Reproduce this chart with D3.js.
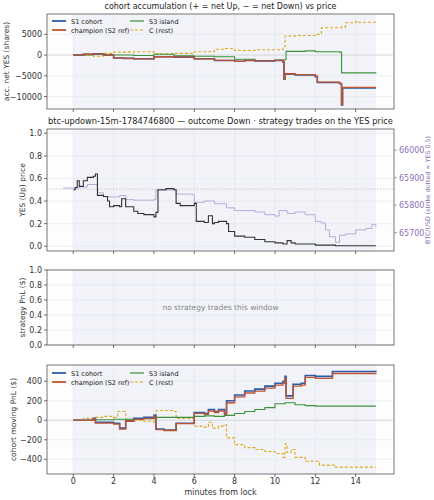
<!DOCTYPE html>
<html><head><meta charset="utf-8">
<script src="https://cdn.jsdelivr.net/npm/d3@7"></script>
<style>body{margin:0;background:#fff}svg{font-family:"DejaVu Sans",sans-serif}</style>
</head><body>
<script>
// ---- data (t = minutes from lock) ----
const accS1 = [[0,0],[0.5,200],[1,300],[1.5,0],[2,-700],[2.5,-800],[3,-900],[4,-400],[5,-500],[6,-900],[7,-1300],[8,-1500],[8.5,-1300],[9,-1400],[10,-1300],[10.4,-1700],[10.45,-5800],[10.5,-4600],[11,-4800],[12,-5200],[12.1,-6600],[13.2,-6900],[13.3,-12000],[13.35,-7900],[15,-7900]];
const accChamp = [[0,0],[0.5,200],[1,300],[1.5,0],[2,-700],[2.5,-800],[3,-900],[4,-400],[5,-500],[6,-900],[7,-1300],[8,-1500],[8.5,-1300],[9,-1400],[10,-1300],[10.4,-1700],[10.45,-5800],[10.5,-4500],[11,-4700],[12,-5100],[12.1,-6500],[13.2,-6800],[13.3,-12000],[13.35,-7800],[15,-7800]];
const accS3 = [[0,0],[1,200],[1.5,0],[3,-100],[4,200],[5,-200],[6,-300],[7,-400],[8,-1000],[9,-1300],[10,-1200],[10.5,-1000],[10.55,900],[11.5,1000],[12,800],[13.2,700],[13.3,-4300],[15,-4400]];
const accC = [[0,0],[1,-300],[1.5,400],[2,700],[3,800],[4,700],[4.1,300],[5,400],[6,800],[7,1400],[7.5,1600],[8,1100],[9,1300],[10,1300],[10.4,2000],[10.5,4600],[11,4700],[12,5000],[12.3,6600],[13.3,6800],[13.5,7800],[14,8100],[14.1,7900],[15,7900]];

const yesPrice = [[0,0.5],[0.1,0.52],[0.2,0.58],[0.3,0.53],[0.5,0.58],[0.7,0.61],[1,0.62],[1.1,0.64],[1.2,0.45],[1.5,0.44],[1.7,0.40],[1.8,0.35],[2,0.36],[2.3,0.35],[2.4,0.42],[2.6,0.35],[3,0.31],[3.2,0.29],[3.5,0.28],[4,0.26],[4.1,0.3],[4.2,0.5],[4.6,0.51],[5,0.5],[5.1,0.38],[5.3,0.36],[5.8,0.36],[6,0.38],[6.1,0.22],[6.5,0.21],[6.7,0.27],[6.9,0.2],[7,0.21],[7.2,0.22],[7.6,0.2],[7.7,0.13],[8,0.09],[8.5,0.08],[9,0.06],[9.5,0.04],[10,0.03],[10.4,0.02],[10.6,0.05],[10.8,0.03],[11,0.02],[12,0.01],[13,0.005],[15,0.005]];
const btcPrice = [[-0.5,65862],[0.3,65866],[0.7,65875],[1.2,65845],[1.5,65830],[2.3,65835],[2.6,65820],[3,65818],[4,65820],[4.1,65855],[5.1,65840],[5.9,65838],[6,65810],[6.5,65815],[7,65805],[7.6,65790],[8,65780],[9,65775],[9.5,65765],[10,65760],[10.2,65780],[10.6,65770],[11,65775],[11.5,65765],[12,65740],[12.3,65735],[12.5,65710],[12.7,65685],[13,65665],[13.2,65690],[13.5,65695],[14,65710],[14.5,65715],[14.8,65730],[15,65720]];
const strike = 65858;

const pnlS1 = [[0,0],[1,20],[1.1,-20],[2,-30],[2.3,-80],[2.6,-5],[3,20],[3.5,30],[4,50],[4.1,-90],[4.5,-100],[5.1,-30],[6,80],[6.5,70],[6.7,110],[7,90],[7.2,110],[7.5,70],[7.6,200],[8,260],[8.5,300],[9,320],[9.5,350],[10,380],[10.4,400],[10.5,450],[10.55,250],[10.9,370],[11.3,380],[11.5,460],[12,450],[12.8,450],[12.85,500],[15,510]];
const pnlChamp = [[0,0],[1,15],[1.1,-30],[2,-40],[2.3,-90],[2.6,-10],[3,10],[3.5,20],[4,40],[4.1,-95],[4.5,-105],[5.1,-35],[6,70],[6.5,60],[6.7,95],[7,80],[7.2,95],[7.5,60],[7.6,180],[8,240],[8.5,280],[9,300],[9.5,330],[10,360],[10.4,380],[10.5,430],[10.55,225],[10.9,350],[11.3,360],[11.5,440],[12,430],[12.8,430],[12.85,480],[15,485]];
const pnlS3 = [[0,0],[1,5],[2,10],[3,15],[4,20],[4.1,30],[5,30],[6,40],[6.5,45],[7,40],[7.5,50],[8,70],[8.5,90],[9,110],[9.5,130],[10,170],[10.5,180],[11,160],[11.5,150],[12,145],[15,145]];
const pnlC = [[0,0],[0.5,20],[1,30],[1.5,40],[2,30],[2.2,90],[2.5,90],[2.6,10],[3,0],[3.5,-10],[4,-20],[4.1,100],[5,90],[5.1,20],[5.9,20],[6,-60],[6.5,-70],[6.7,-20],[6.9,-80],[7.2,-60],[7.5,-50],[7.6,-180],[8,-250],[8.5,-280],[9,-300],[9.5,-320],[10,-340],[10.4,-380],[10.5,-240],[10.6,-330],[10.8,-300],[11,-380],[11.5,-420],[12,-420],[12.2,-460],[13,-480],[15,-480]];

const xTicks = [0,2,4,6,8,10,12,14];
const seriesNames = ["S1 cohort","champion (S2 ref)","S3 island","C (rest)"];
const seriesColors = ["#2a5caa","#c0532f","#3a923a","#e0a81a"];

// ---- layout ----
const W = 434, H = 500, L = 47, R = 394;
const svg = d3.select("body").append("svg").attr("width", W).attr("height", H);
const x = d3.scaleLinear().domain([-1.3, 15.9]).range([L, R]);

function panel(top, bottom, domain, ticks, fmt, title, ylabel, labelX) {
  const y = d3.scaleLinear().domain(domain).range([bottom, top]);
  const g = svg.append("g");
  g.append("rect").attr("x", L).attr("y", top).attr("width", R - L).attr("height", bottom - top).attr("fill", "#fdfdfe");
  g.append("rect").attr("x", x(0)).attr("y", top).attr("width", x(15) - x(0)).attr("height", bottom - top).attr("fill", "#f1f3f9");
  xTicks.forEach(t => g.append("line").attr("x1", x(t)).attr("x2", x(t)).attr("y1", top).attr("y2", bottom).attr("stroke", "#e4e6ec").attr("stroke-width", 0.6));
  ticks.forEach(t => g.append("line").attr("x1", L).attr("x2", R).attr("y1", y(t)).attr("y2", y(t)).attr("stroke", "#e4e6ec").attr("stroke-width", 0.6));
  g.append("rect").attr("x", L).attr("y", top).attr("width", R - L).attr("height", bottom - top).attr("fill", "none").attr("stroke", "#555").attr("stroke-width", 0.8);
  ticks.forEach(t => {
    g.append("line").attr("x1", L - 3).attr("x2", L).attr("y1", y(t)).attr("y2", y(t)).attr("stroke", "#333").attr("stroke-width", 0.7);
    g.append("text").attr("x", L - 5).attr("y", y(t) + 3).attr("text-anchor", "end").attr("font-size", 8).attr("fill", "#333").text(fmt(t));
  });
  xTicks.forEach(t => g.append("line").attr("x1", x(t)).attr("x2", x(t)).attr("y1", bottom).attr("y2", bottom + 3).attr("stroke", "#333").attr("stroke-width", 0.7));
  if (title) g.append("text").attr("x", (L + R) / 2).attr("y", top - 5).attr("text-anchor", "middle").attr("font-size", title.size).attr("fill", "#222").text(title.text);
  g.append("text").attr("transform", `translate(${labelX},${(top + bottom) / 2}) rotate(-90)`).attr("text-anchor", "middle").attr("font-size", 7.5).attr("fill", "#333").text(ylabel);
  return {g, y};
}

const fmtNum = t => t < 0 ? "\u2212" + Math.abs(t) : String(t);

function step(g, y, data, color, width, dash) {
  const line = d3.line().x(d => x(d[0])).y(d => y(d[1])).curve(d3.curveStepAfter);
  g.append("path").attr("d", line(data)).attr("fill", "none").attr("stroke", color).attr("stroke-width", width).attr("stroke-dasharray", dash || null);
}

function legend(g, x0, y0) {
  seriesNames.forEach((n, i) => {
    const lx = x0 + (i >= 2 ? 78 : 0), ly = y0 + (i % 2) * 9;
    g.append("line").attr("x1", lx).attr("x2", lx + 14).attr("y1", ly).attr("y2", ly).attr("stroke", seriesColors[i]).attr("stroke-width", i < 2 ? 1.8 : 1.2).attr("stroke-dasharray", i === 3 ? "3,2" : null);
    g.append("text").attr("x", lx + 19).attr("y", ly + 2.5).attr("font-size", 6.5).attr("fill", "#222").text(n);
  });
}

// panel 1: accumulation
{
  const {g, y} = panel(14, 109, [-13000, 9900], [-10000, -5000, 0, 5000], fmtNum,
    {text: "cohort accumulation (+ = net Up, \u2212 = net Down) vs price", size: 8}, "acc. net YES (shares)", 9);
  g.append("line").attr("x1", L).attr("x2", R).attr("y1", y(0)).attr("y2", y(0)).attr("stroke", "#ccc").attr("stroke-width", 0.6);
  step(g, y, accC, seriesColors[3], 1.1, "3,2");
  step(g, y, accS3, seriesColors[2], 1.1);
  step(g, y, accS1, seriesColors[0], 1.6);
  step(g, y, accChamp, seriesColors[1], 1.3);
  legend(g, 52, 21);
}

// panel 2: YES price + BTC
{
  const {g, y} = panel(129, 251, [-0.042, 1.038], [0, 0.2, 0.4, 0.6, 0.8, 1.0], d3.format(".1f"),
    {text: "btc-updown-15m-1784746800 \u2014 outcome Down \u00b7 strategy trades on the YES price", size: 8.3}, "YES (Up) price", 25);
  const yb = d3.scaleLinear().domain([65633, 66077]).range([251, 129]);
  g.append("line").attr("x1", L).attr("x2", R).attr("y1", yb(strike)).attr("y2", yb(strike)).attr("stroke", "#bbb").attr("stroke-width", 0.7).attr("stroke-dasharray", "1.5,1.5");
  step(g, yb, btcPrice, "#b3a3d6", 0.9);
  step(g, y, yesPrice, "#333", 1.1);
  [65700, 65800, 65900, 66000].forEach(v => {
    g.append("line").attr("x1", R).attr("x2", R + 3).attr("y1", yb(v)).attr("y2", yb(v)).attr("stroke", "#8e6fb6").attr("stroke-width", 0.7);
    g.append("text").attr("x", R + 5).attr("y", yb(v) + 3).attr("font-size", 8).attr("fill", "#8e6fb6").text(v);
  });
  g.append("text").attr("transform", `translate(${430},${190}) rotate(-90)`).attr("text-anchor", "middle").attr("font-size", 6.3).attr("fill", "#8e6fb6").text("BTC/USD (strike dotted = YES 0.5)");
}

// panel 3: strategy PnL (empty)
{
  const {g} = panel(270, 345, [0, 1.0], [0, 0.2, 0.4, 0.6, 0.8, 1.0], d3.format(".1f"), null, "strategy PnL ($)", 25);
  g.append("text").attr("x", (L + R) / 2).attr("y", 310).attr("text-anchor", "middle").attr("font-size", 7.5).attr("fill", "#888").text("no strategy trades this window");
}

// panel 4: moving PnL
{
  const {g, y} = panel(365, 474, [-551, 567], [-400, -200, 0, 200, 400], fmtNum, null, "cohort moving PnL ($)", 16);
  g.append("line").attr("x1", L).attr("x2", R).attr("y1", y(0)).attr("y2", y(0)).attr("stroke", "#ccc").attr("stroke-width", 0.6);
  step(g, y, pnlC, seriesColors[3], 1.1, "3,2");
  step(g, y, pnlS3, seriesColors[2], 1.1);
  step(g, y, pnlS1, seriesColors[0], 1.6);
  step(g, y, pnlChamp, seriesColors[1], 1.3);
  legend(g, 52, 373);
  xTicks.forEach(t => g.append("text").attr("x", x(t)).attr("y", 484).attr("text-anchor", "middle").attr("font-size", 8).attr("fill", "#333").text(t));
  g.append("text").attr("x", (L + R) / 2).attr("y", 495).attr("text-anchor", "middle").attr("font-size", 8).attr("fill", "#333").text("minutes from lock");
}
</script>
</body></html>
